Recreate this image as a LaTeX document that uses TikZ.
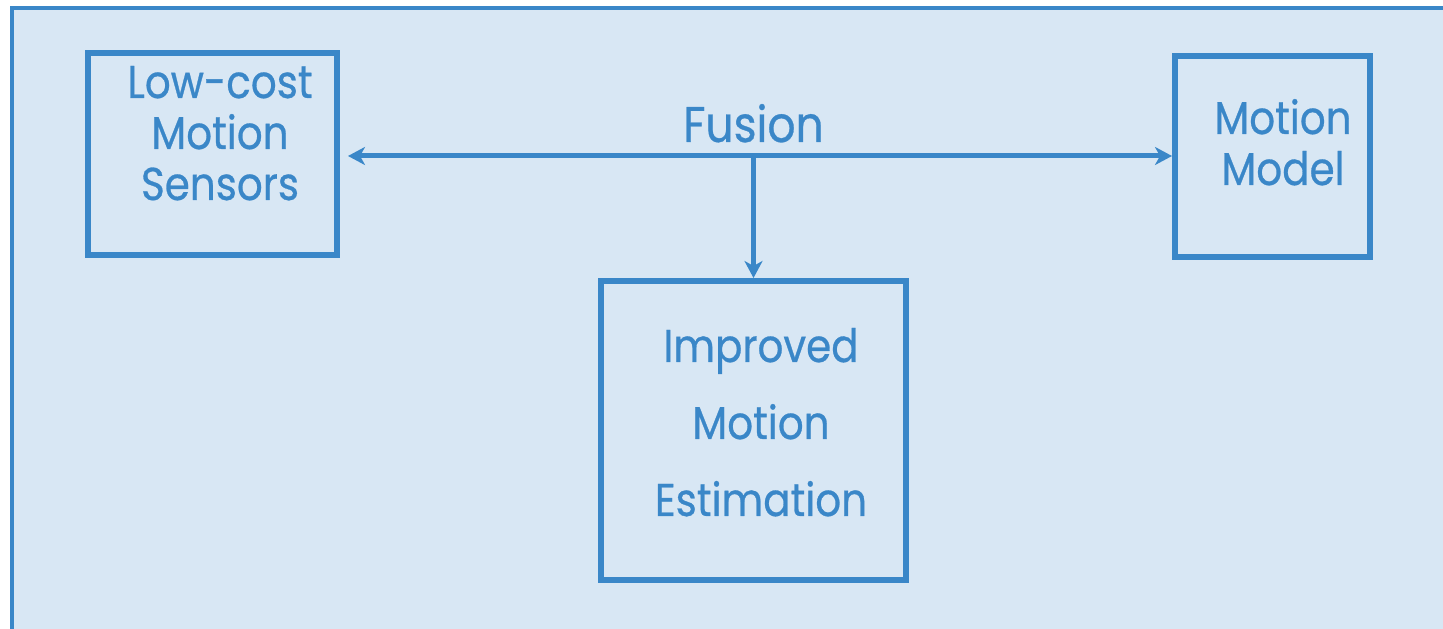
\documentclass[tikz,border=0pt]{standalone}
\usepackage{fontspec}
\setmainfont{Poppins}[FakeStretch=0.88, FakeBold=0.6]
\usetikzlibrary{arrows.meta}
\definecolor{lineblue}{HTML}{3A87C8}
\definecolor{paneblue}{HTML}{D8E7F4}
\tikzset{
  blockbox/.style={draw=lineblue, line width=6pt, inner sep=0pt},
  blocktext/.style={text=lineblue, align=center, anchor=base, font=\fontsize{46}{51}\selectfont},
  link/.style={draw=lineblue, line width=5pt},
}

\begin{document}
\begin{tikzpicture}[x=1pt, y=1pt, >={Stealth[length=17pt,width=18pt,inset=5pt]}]

\useasboundingbox (0,0) rectangle (1443,629);
\draw[draw=lineblue, fill=paneblue, line width=4.5pt] (12,-20) rectangle (1470,621);

\node[blockbox, minimum width=249pt, minimum height=202pt] (sens) at (212.5,475) {};
\node[blockbox, minimum width=195pt, minimum height=201pt] (model) at (1272.5,472.5) {};
\node[blockbox, minimum width=305pt, minimum height=299pt] (est) at (753.5,198.5) {};

\node[blocktext] (senstext) at (220,429) {Low-cost\\Motion\\Sensors};
\node[blocktext] (modeltext) at (1283,444) {Motion\\Model};
\node[blocktext, font=\fontsize{46}{77}\selectfont] (esttext) at (761,113) {Improved\\Motion\\Estimation};
\node[blocktext, font=\fontsize{50}{60}\selectfont] (fusion) at (753.5,487) {Fusion};

\coordinate (fus) at (753.5,473);
\draw[link, <->, shorten <=8pt] (sens.east |- fus) -- (model.west |- fus);
\draw[link, ->] (fus) -- (est.north);

\end{tikzpicture}
\end{document}
